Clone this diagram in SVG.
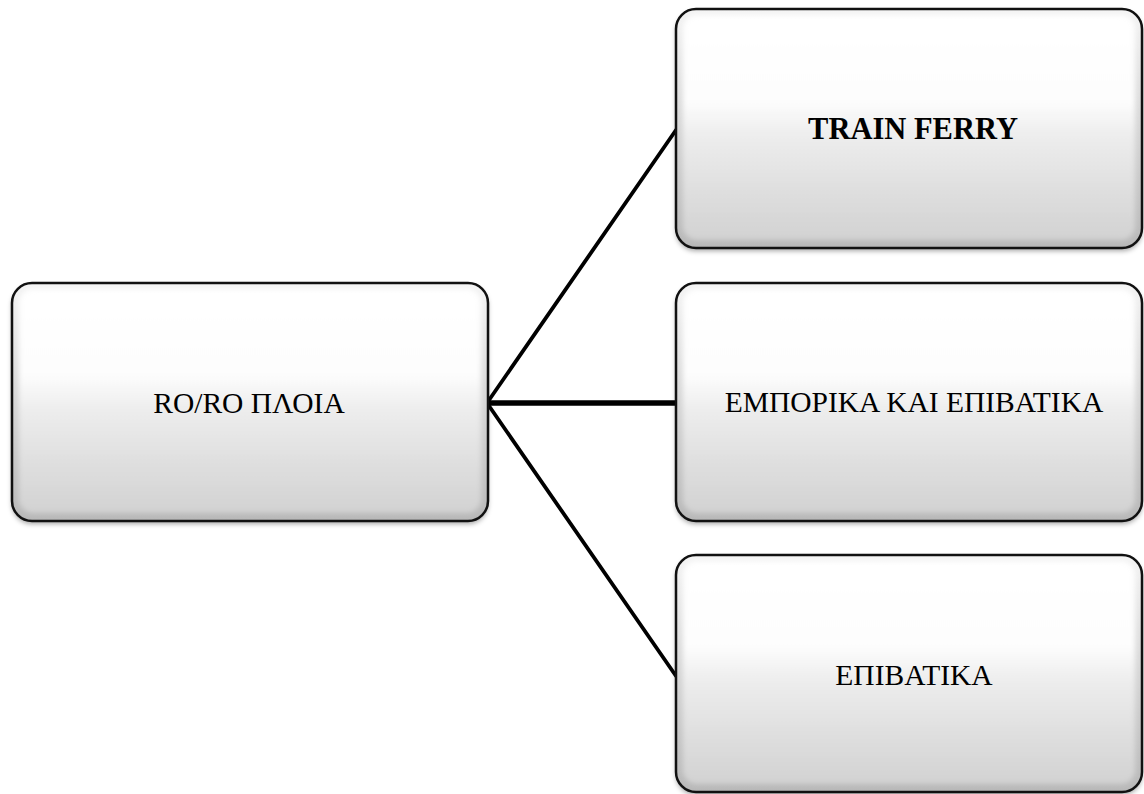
<svg xmlns="http://www.w3.org/2000/svg" width="1144" height="794" viewBox="0 0 1144 794">
  <defs>
    <linearGradient id="body" x1="0" y1="0" x2="0" y2="1">
      <stop offset="0" stop-color="#ffffff"/>
      <stop offset="0.38" stop-color="#fdfdfd"/>
      <stop offset="0.55" stop-color="#ececec"/>
      <stop offset="1" stop-color="#d2d2d2"/>
    </linearGradient>
    <linearGradient id="rim" x1="0" y1="0" x2="0" y2="1">
      <stop offset="0" stop-color="#f4f4f4"/>
      <stop offset="1" stop-color="#b8b8b8"/>
    </linearGradient>
    <filter id="shadow" x="-5%" y="-5%" width="110%" height="115%">
      <feDropShadow dx="0" dy="3" stdDeviation="2.5" flood-color="#000" flood-opacity="0.35"/>
    </filter>
    <filter id="soft" x="-5%" y="-5%" width="110%" height="110%">
      <feGaussianBlur stdDeviation="2.5"/>
    </filter>
    <style>
      .rim { fill: url(#rim); }
      .body { fill: url(#body); filter: url(#soft); }
      .edge { fill: none; stroke: #111; stroke-width: 2.5; }
      .lbl { font-family: "Liberation Serif", "Times New Roman", serif; font-size: 29.5px; fill: #000; text-anchor: middle; }
      .bold { font-weight: bold; font-size: 30.5px; }
      .conn { fill: none; stroke: #000; stroke-linecap: round; }
    </style>
  </defs>

  <g id="connectors">
    <path class="conn" stroke-width="3.8" d="M487 403 L676 130"/>
    <path class="conn" stroke-width="5.5" d="M487 403 L676 403"/>
    <path class="conn" stroke-width="3.8" d="M487 403 L676 676"/>
  </g>

  <g id="node-roro">
    <rect class="rim" x="12" y="283" width="476" height="238" rx="20" filter="url(#shadow)"/>
    <rect class="body" x="19" y="289" width="462" height="224" rx="14"/>
    <rect class="edge" x="12" y="283" width="476" height="238" rx="20"/>
    <text class="lbl" x="249" y="413">RO/RO ΠΛΟΙΑ</text>
  </g>

  <g id="node-train">
    <rect class="rim" x="676" y="9" width="466" height="239" rx="20" filter="url(#shadow)"/>
    <rect class="body" x="683" y="15" width="452" height="225" rx="14"/>
    <rect class="edge" x="676" y="9" width="466" height="239" rx="20"/>
    <text class="lbl bold" x="913" y="139">TRAIN FERRY</text>
  </g>

  <g id="node-commercial">
    <rect class="rim" x="676" y="283" width="466" height="238" rx="20" filter="url(#shadow)"/>
    <rect class="body" x="683" y="289" width="452" height="224" rx="14"/>
    <rect class="edge" x="676" y="283" width="466" height="238" rx="20"/>
    <text class="lbl" x="914" y="412">ΕΜΠΟΡΙΚΑ ΚΑΙ ΕΠΙΒΑΤΙΚΑ</text>
  </g>

  <g id="node-passenger">
    <rect class="rim" x="676" y="555" width="466" height="237" rx="20" filter="url(#shadow)"/>
    <rect class="body" x="683" y="561" width="452" height="223" rx="14"/>
    <rect class="edge" x="676" y="555" width="466" height="237" rx="20"/>
    <text class="lbl" x="914" y="685">ΕΠΙΒΑΤΙΚΑ</text>
  </g>
</svg>
